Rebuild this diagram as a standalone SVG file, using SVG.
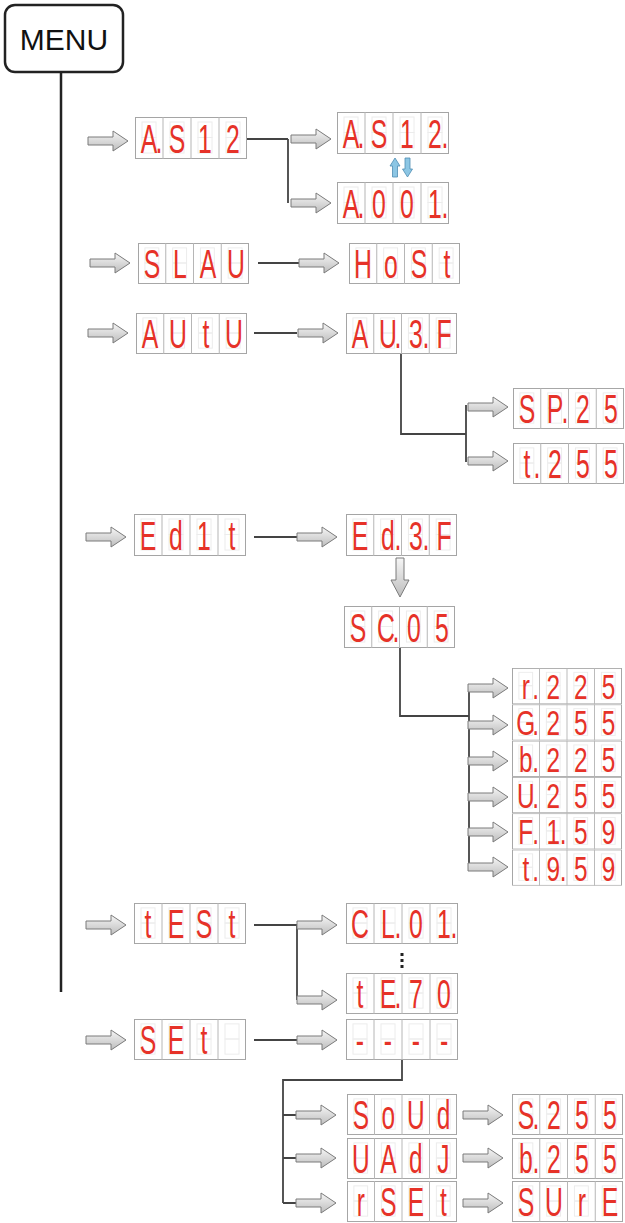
<svg xmlns="http://www.w3.org/2000/svg" xmlns:xlink="http://www.w3.org/1999/xlink" width="625" height="1223" viewBox="0 0 625 1223">
<style>
.d{font-family:"Liberation Sans",Arial,sans-serif;font-size:40px;fill:#e63228;text-anchor:middle}
.ln{fill:none;stroke:#444;stroke-width:1.8}
.menu{font-family:"Liberation Sans",Arial,sans-serif;font-size:30px;fill:#111;text-anchor:middle}
</style>
<defs>
<linearGradient id="g" x1="0" y1="0" x2="0" y2="1">
<stop offset="0" stop-color="#f6f6f6"/><stop offset="1" stop-color="#bdbdbd"/>
</linearGradient>
<path id="ar" d="M-40,-4 H-15 V-10 L0,0 L-15,10 V4 H-40 Z" fill="url(#g)" stroke="#7a7a7a" stroke-width="1"/>
<symbol id="disp" viewBox="0 0 112 42" preserveAspectRatio="none">
<rect x="0.5" y="0.5" width="111" height="41" fill="#fff" stroke="#a5a5a5" stroke-width="1"/>
<path d="M28,0V42M56,0V42M84,0V42" stroke="#b5b5b5" stroke-width="1"/>
<g fill="none" stroke="#ececec" stroke-width="1">
<rect x="7" y="5" width="14" height="15.5"/><rect x="7" y="20.5" width="14" height="15.5"/>
<rect x="35" y="5" width="14" height="15.5"/><rect x="35" y="20.5" width="14" height="15.5"/>
<rect x="63" y="5" width="14" height="15.5"/><rect x="63" y="20.5" width="14" height="15.5"/>
<rect x="91" y="5" width="14" height="15.5"/><rect x="91" y="20.5" width="14" height="15.5"/>
</g>
</symbol>
</defs>
<rect width="625" height="1223" fill="#fff"/>

<g id="menu">
<rect x="5" y="5" width="118" height="67" rx="10" fill="#fff" stroke="#222" stroke-width="2.5"/>
<text class="menu" x="64" y="50">MENU</text>
</g>

<g id="connectors">
<path d="M61,72 V992" fill="none" stroke="#222" stroke-width="2.5"/>
<path class="ln" d="M247,139 H288 M288,139 V203"/>
<path class="ln" d="M258,263 H300"/>
<path class="ln" d="M254,333 H297"/>
<path class="ln" d="M401,354 V434 H466 M466,405 V462"/>
<path class="ln" d="M254,537 H297"/>
<path class="ln" d="M400,648 V716 H469 M469,686 V867"/>
<path class="ln" d="M469,688 H472 M469,725 H472 M469,761 H472 M469,797 H472 M469,832 H472 M469,867 H472"/>
<path class="ln" d="M254,925 H297 V1000"/>
<path class="ln" d="M254,1040 H297"/>
<path class="ln" d="M402,1060 V1080 H283 V1203 M283,1115 H297 M283,1158 H297 M283,1203 H297"/>
<path d="M402,953 V969" fill="none" stroke="#222" stroke-width="3" stroke-dasharray="3,3"/>
<!-- left arrows -->
<use href="#ar" x="128" y="141"/>
<use href="#ar" x="130" y="263"/>
<use href="#ar" x="128" y="333"/>
<use href="#ar" x="126" y="537"/>
<use href="#ar" x="126" y="925"/>
<use href="#ar" x="126" y="1040"/>
<!-- middle arrows -->
<use href="#ar" x="331" y="139"/>
<use href="#ar" x="331" y="203"/>
<use href="#ar" x="339" y="263"/>
<use href="#ar" x="338" y="333"/>
<use href="#ar" x="337" y="537"/>
<use href="#ar" x="337" y="925"/>
<use href="#ar" x="337" y="1000"/>
<use href="#ar" x="337" y="1040"/>
<use href="#ar" x="336" y="1115"/>
<use href="#ar" x="336" y="1158"/>
<use href="#ar" x="336" y="1203"/>
<!-- right arrows -->
<use href="#ar" x="508" y="407"/>
<use href="#ar" x="508" y="461"/>
<use href="#ar" x="508" y="688"/>
<use href="#ar" x="508" y="725"/>
<use href="#ar" x="508" y="761"/>
<use href="#ar" x="508" y="797"/>
<use href="#ar" x="508" y="832"/>
<use href="#ar" x="508" y="867"/>
<use href="#ar" x="503" y="1115"/>
<use href="#ar" x="503" y="1158"/>
<use href="#ar" x="503" y="1203"/>
<!-- down arrow -->
<path d="M396,558 H404 V580 H409 L400,597 L391,580 H396 Z" fill="url(#g)" stroke="#7a7a7a" stroke-width="1"/>
<!-- blue up/down -->
<path d="M395,158 L400,166 H397.5 V177 H392.5 V166 H390 Z" fill="#8cc6e4" stroke="#4f8db3" stroke-width="0.8"/>
<path d="M405,158 H410 V169 H412.5 L407.5,177 L402.5,169 H405 Z" fill="#8cc6e4" stroke="#4f8db3" stroke-width="0.8"/>
</g>

<g id="n-as12"><use href="#disp" x="135" y="117" width="112" height="42"/>
<text class="d" transform="translate(135,117) scale(0.62,1)" x="22.6 38.7 67.7 112.9 158.1" y="36">A.S12</text></g>
<g id="n-as12b"><use href="#disp" x="337" y="112" width="112" height="42"/>
<text class="d" transform="translate(337,112) scale(0.62,1)" x="22.6 38.7 67.7 112.9 158.1 174.2" y="36">A.S12.</text></g>
<g id="n-a001"><use href="#disp" x="337" y="182" width="112" height="42"/>
<text class="d" transform="translate(337,182) scale(0.62,1)" x="22.6 38.7 67.7 112.9 158.1 174.2" y="36">A.001.</text></g>

<g id="n-slau"><use href="#disp" x="138" y="243" width="111" height="41"/>
<text class="d" transform="translate(138,243) scale(0.62,1)" x="22.6 67.7 112.9 158.1" y="35">SLAU</text></g>
<g id="n-host"><use href="#disp" x="349" y="243" width="111" height="41"/>
<text class="d" transform="translate(349,243) scale(0.62,1)" x="22.6 67.7 112.9 158.1" y="35">HoSt</text></g>

<g id="n-autu"><use href="#disp" x="136" y="313" width="111" height="41"/>
<text class="d" transform="translate(136,313) scale(0.62,1)" x="22.6 67.7 112.9 158.1" y="35">AUtU</text></g>
<g id="n-au3f"><use href="#disp" x="346" y="313" width="111" height="41"/>
<text class="d" transform="translate(346,313) scale(0.62,1)" x="22.6 67.7 83.9 112.9 129 158.1" y="35">AU.3.F</text></g>
<g id="n-sp25"><use href="#disp" x="513" y="388" width="111" height="41"/>
<text class="d" transform="translate(513,388) scale(0.62,1)" x="22.6 67.7 83.9 112.9 158.1" y="35">SP.25</text></g>
<g id="n-t255"><use href="#disp" x="513" y="443" width="111" height="41"/>
<text class="d" transform="translate(513,443) scale(0.62,1)" x="22.6 38.7 67.7 112.9 158.1" y="35">t.255</text></g>

<g id="n-edit"><use href="#disp" x="134" y="514" width="112" height="42"/>
<text class="d" transform="translate(134,514) scale(0.62,1)" x="22.6 67.7 112.9 158.1" y="36">Ed1t</text></g>
<g id="n-ed3f"><use href="#disp" x="346" y="514" width="111" height="42"/>
<text class="d" transform="translate(346,514) scale(0.62,1)" x="22.6 67.7 83.9 112.9 129 158.1" y="36">Ed.3.F</text></g>
<g id="n-sc05"><use href="#disp" x="344" y="606" width="111" height="42"/>
<text class="d" transform="translate(344,606) scale(0.62,1)" x="22.6 67.7 83.9 112.9 158.1" y="36">SC.05</text></g>

<g id="n-r225"><use href="#disp" x="512" y="668" width="110" height="36.3"/>
<text class="d" transform="translate(512,668) scale(0.61,0.864)" x="22.6 38.7 67.7 112.9 158.1" y="36">r.225</text></g>
<g id="n-g255"><use href="#disp" x="512" y="704.3" width="110" height="36.3"/>
<text class="d" transform="translate(512,704.3) scale(0.61,0.864)" x="22.6 38.7 67.7 112.9 158.1" y="36">G.255</text></g>
<g id="n-b225"><use href="#disp" x="512" y="740.6" width="110" height="36.3"/>
<text class="d" transform="translate(512,740.6) scale(0.61,0.864)" x="22.6 38.7 67.7 112.9 158.1" y="36">b.225</text></g>
<g id="n-u255"><use href="#disp" x="512" y="776.9" width="110" height="36.3"/>
<text class="d" transform="translate(512,776.9) scale(0.61,0.864)" x="22.6 38.7 67.7 112.9 158.1" y="36">U.255</text></g>
<g id="n-f159"><use href="#disp" x="512" y="813.2" width="110" height="36.3"/>
<text class="d" transform="translate(512,813.2) scale(0.61,0.864)" x="22.6 38.7 67.7 83.9 112.9 158.1" y="36">F.1.59</text></g>
<g id="n-t959"><use href="#disp" x="512" y="849.5" width="110" height="36.3"/>
<text class="d" transform="translate(512,849.5) scale(0.61,0.864)" x="22.6 38.7 67.7 83.9 112.9 158.1" y="36">t.9.59</text></g>

<g id="n-test"><use href="#disp" x="134" y="903" width="112" height="41"/>
<text class="d" transform="translate(134,903) scale(0.62,1)" x="22.6 67.7 112.9 158.1" y="35">tESt</text></g>
<g id="n-cl01"><use href="#disp" x="346" y="903" width="112" height="41"/>
<text class="d" transform="translate(346,903) scale(0.62,1)" x="22.6 67.7 83.9 112.9 158.1 174.2" y="35">CL.01.</text></g>
<g id="n-te70"><use href="#disp" x="346" y="973" width="112" height="41"/>
<text class="d" transform="translate(346,973) scale(0.62,1)" x="22.6 67.7 83.9 112.9 158.1" y="35">tE.70</text></g>

<g id="n-set"><use href="#disp" x="134" y="1019" width="112" height="41"/>
<text class="d" transform="translate(134,1019) scale(0.62,1)" x="22.6 67.7 112.9" y="35">SEt</text></g>
<g id="n-dash"><use href="#disp" x="346" y="1019" width="112" height="41"/>
<text class="d" transform="translate(346,1019) scale(0.62,1)" x="22.6 67.7 112.9 158.1" y="35">----</text></g>

<g id="n-soud"><use href="#disp" x="347" y="1094" width="110" height="41"/>
<text class="d" transform="translate(347,1094) scale(0.61,1)" x="22.6 67.7 112.9 158.1" y="35">SoUd</text></g>
<g id="n-uadj"><use href="#disp" x="347" y="1138" width="110" height="41"/>
<text class="d" transform="translate(347,1138) scale(0.61,1)" x="22.6 67.7 112.9 158.1" y="35">UAdJ</text></g>
<g id="n-rset"><use href="#disp" x="347" y="1181" width="110" height="41"/>
<text class="d" transform="translate(347,1181) scale(0.61,1)" x="22.6 67.7 112.9 158.1" y="35">rSEt</text></g>
<g id="n-s255"><use href="#disp" x="512" y="1094" width="111" height="41"/>
<text class="d" transform="translate(512,1094) scale(0.62,1)" x="22.6 38.7 67.7 112.9 158.1" y="35">S.255</text></g>
<g id="n-b255"><use href="#disp" x="512" y="1138" width="111" height="41"/>
<text class="d" transform="translate(512,1138) scale(0.62,1)" x="22.6 38.7 67.7 112.9 158.1" y="35">b.255</text></g>
<g id="n-sure"><use href="#disp" x="512" y="1181" width="111" height="41"/>
<text class="d" transform="translate(512,1181) scale(0.62,1)" x="22.6 67.7 112.9 158.1" y="35">SUrE</text></g>
</svg>
